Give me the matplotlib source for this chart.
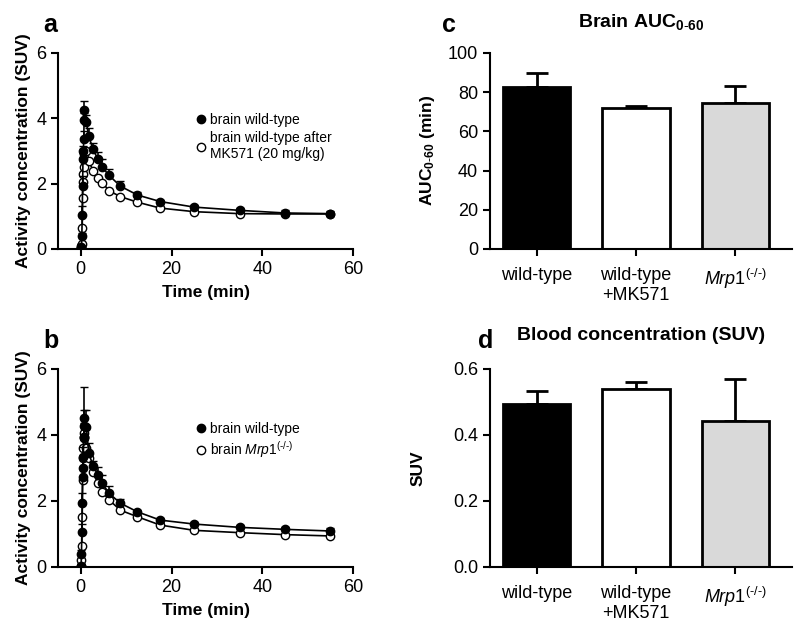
import matplotlib
matplotlib.use("Agg")
import matplotlib.pyplot as plt
import numpy as np
from matplotlib.lines import Line2D

plt.rcParams["font.family"] = ["Liberation Sans", "DejaVu Sans"]
plt.rcParams["mathtext.fontset"] = "custom"
plt.rcParams["mathtext.rm"] = "Liberation Sans"
plt.rcParams["mathtext.it"] = "Liberation Sans:italic"
plt.rcParams["mathtext.bf"] = "Liberation Sans:bold"
plt.rcParams["axes.linewidth"] = 1.5

# time frames (min)
time = [0.083, 0.167, 0.25, 0.333, 0.417, 0.5, 0.583, 0.667, 0.75, 0.833,
        1.25, 1.75, 2.75, 3.75, 4.75, 6.25, 8.75, 12.5, 17.5, 25, 35, 45, 55]

# panel a
wt_a = [0.02, 0.05, 0.4, 1.05, 1.92, 2.75, 3.0, 3.35, 3.95, 4.25,
        3.9, 3.45, 3.05, 2.75, 2.5, 2.25, 1.92, 1.65, 1.45, 1.28, 1.18, 1.1, 1.08]
wt_a_err = [0.02, 0.05, 0.1, 0.25, 0.3, 0.2, 0.15, 0.25, 0.2, 0.28,
            0.2, 0.25, 0.2, 0.22, 0.25, 0.2, 0.17, 0.08, 0.05, 0.07, 0.08, 0.08, 0.08]
mk_a = [0.02, 0.08, 0.15, 0.65, 1.55, 2.05, 2.3, 2.5, 2.75, 2.9,
        3.0, 2.68, 2.4, 2.17, 2.03, 1.78, 1.6, 1.43, 1.25, 1.14, 1.08, 1.07, 1.07]
mk_a_err = [0.03] * 23

# panel b
wt_b = [0.03, 0.4, 1.06, 1.93, 2.74, 3.01, 3.33, 3.95, 4.26, 4.51,
        4.24, 3.45, 3.06, 2.79, 2.53, 2.23, 1.93, 1.67, 1.42, 1.3, 1.2, 1.14, 1.09]
wt_b_err = [0.02, 0.1, 0.25, 0.3, 0.3, 0.3, 0.3, 0.4, 0.5, 0.95,
            0.5, 0.3, 0.15, 0.25, 0.27, 0.22, 0.12, 0.06, 0.06, 0.06, 0.08, 0.07, 0.09]
ko_b = [0.03, 0.2, 0.63, 1.52, 2.63, 3.3, 3.6, 3.9, 4.05, 3.95,
        3.6, 3.3, 2.89, 2.53, 2.28, 2.03, 1.72, 1.52, 1.27, 1.11, 1.04, 0.98, 0.94]
ko_b_err = [0.03] * 23

# bar panels
mrp1 = "$\\mathit{Mrp1}^{\\mathit{(\u2010/\u2010)}}$"
groups = ["wild-type", "wild-type\n+MK571", mrp1]
auc = [82.5, 72.0, 74.6]
auc_err = [7.5, 0.9, 8.6]
blood = [0.494, 0.540, 0.442]
blood_err = [0.038, 0.020, 0.126]
bar_colors = ["black", "white", "#d9d9d9"]

fig = plt.figure(figsize=(8, 6.27), dpi=100)
ax_a = fig.add_axes([0.0725, 0.603, 0.369, 0.3126])
ax_b = fig.add_axes([0.0725, 0.0957, 0.369, 0.316])
ax_c = fig.add_axes([0.6125, 0.603, 0.3775, 0.3126])
ax_d = fig.add_axes([0.6125, 0.0957, 0.3775, 0.316])

fs = 12.5


def style(ax):
    ax.spines["top"].set_visible(False)
    ax.spines["right"].set_visible(False)
    ax.tick_params(direction="out", length=5, width=1.5, labelsize=13)


def curve(ax, y, err, filled):
    face = "black" if filled else "white"
    ax.errorbar(time, y, yerr=[np.zeros(len(err)), err], color="black", lw=1.2,
                marker="o", ms=6, mfc=face, mec="black", mew=1,
                elinewidth=1.2, capsize=3, capthick=1.2, zorder=3 if filled else 2)


for ax, y1, e1, y2, e2, lab2, letter, top in [
        (ax_a, wt_a, wt_a_err, mk_a, mk_a_err,
         "brain wild-type after\nMK571 (20 mg/kg)", "a", 0.72),
        (ax_b, wt_b, wt_b_err, ko_b, ko_b_err,
         "brain " + mrp1, "b", 0.76)]:
    curve(ax, y2, e2, False)
    curve(ax, y1, e1, True)
    ax.set_xlim(-5, 60)
    ax.set_ylim(0, 6)
    ax.set_xticks([0, 20, 40, 60])
    ax.set_yticks([0, 2, 4, 6])
    style(ax)
    ax.set_xlabel("Time (min)", fontsize=fs, fontweight="bold", labelpad=5)
    ax.set_ylabel("Activity concentration (SUV)", fontsize=fs, fontweight="bold",
                  labelpad=4)
    h1 = Line2D([], [], ls="none", marker="o", ms=6, mfc="black", mec="black")
    h2 = Line2D([], [], ls="none", marker="o", ms=6, mfc="white", mec="black")
    ax.legend([h1, h2], ["brain wild-type", lab2], frameon=False,
              loc="upper left", bbox_to_anchor=(0.45, top), fontsize=10,
              handlelength=0.6, handletextpad=0.4, labelspacing=0.25,
              borderaxespad=0)
    ax.text(-0.05, 1.08, letter, transform=ax.transAxes, fontsize=18,
            fontweight="bold", va="bottom")

x = np.arange(len(groups))
for ax, vals, errs, ylim, yt, ylabel, title, letter, lx, tpad in [
        (ax_c, auc, auc_err, (0, 100), [0, 20, 40, 60, 80, 100],
         r"AUC$_{\mathbf{0\text{-}60}}$ (min)",
         r"Brain AUC$_{\mathbf{0\text{-}60}}$", "c", -0.16, 19),
        (ax_d, blood, blood_err, (0, 0.6), [0.0, 0.2, 0.4, 0.6],
         "SUV", "Blood concentration (SUV)", "d", -0.04, 21)]:
    ax.bar(x, vals, width=0.68, color=bar_colors, edgecolor="black", lw=2,
           zorder=2)
    ax.errorbar(x, vals, yerr=[np.zeros(3), errs], fmt="none", ecolor="black",
                elinewidth=2, capsize=8, capthick=2, zorder=1)
    ax.set_xlim(-0.47, 2.57)
    ax.set_ylim(*ylim)
    ax.set_yticks(yt)
    if letter == "d":
        ax.set_yticklabels(["0.0", "0.2", "0.4", "0.6"])
    ax.set_xticks(x)
    ax.set_xticklabels(groups)
    style(ax)
    ax.tick_params(axis="x", pad=8)
    ax.set_ylabel(ylabel, fontsize=fs, fontweight="bold",
                  labelpad=8 if letter == "c" else 20)
    ax.set_title(title, fontsize=14, fontweight="bold", pad=tpad)
    ax.text(lx, 1.08, letter, transform=ax.transAxes, fontsize=18,
            fontweight="bold", va="bottom")

fig.savefig("out.png", dpi=100)
